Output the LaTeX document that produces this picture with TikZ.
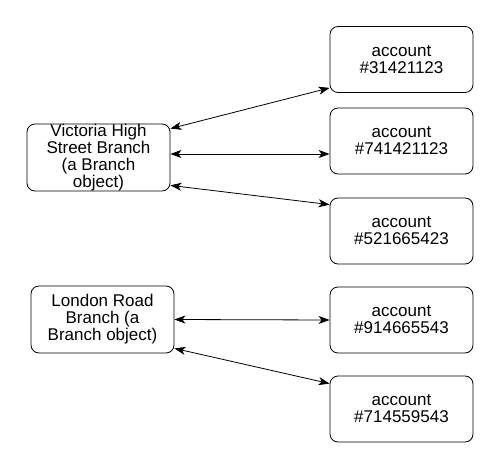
\documentclass[tikz,border=0pt]{standalone}
\usepackage{fontspec}
\setmainfont{Liberation Sans}
\usetikzlibrary{arrows.meta}
\begin{document}
\begin{tikzpicture}[x=1pt,y=-1pt,
  box/.style={draw,rounded corners=8pt,line width=0.8pt,align=center,
    font=\fontsize{17}{17}\selectfont,inner sep=0pt},
  acct/.style={box,minimum width=143pt,minimum height=66pt},
  link/.style={line width=0.8pt,{Stealth[length=11pt,width=8pt,inset=3pt]}-{Stealth[length=11pt,width=8pt,inset=3pt]}}]
\useasboundingbox (0,0) rectangle (500,470);
\node[box,minimum width=143pt,minimum height=67pt] (vic) at (98.5,157.5) {Victoria High\\Street Branch\\(a Branch\\object)};
\node[box,minimum width=143pt,minimum height=67pt] (lon) at (102.5,319.5) {London Road\\Branch (a\\Branch object)};
\node[acct] (a1) at (401.5,59.5) {account\\\#31421123};
\node[acct] (a2) at (401.5,141) {account\\\#741421123};
\node[acct] (a3) at (401.5,231) {account\\\#521665423};
\node[acct] (a4) at (401.5,320) {account\\\#914665543};
\node[acct] (a5) at (401.5,409) {account\\\#714559543};
\draw[link] ([yshift=-5pt]vic.north east) -- ([yshift=5pt]a1.south west);
\draw[link] ([yshift=3.5pt]vic.east) -- ([yshift=-13pt]a2.west);
\draw[link] ([yshift=6pt]vic.south east) -- ([yshift=-7pt]a3.north west);
\draw[link] (lon.east) -- (a4.west);
\draw[link] ([yshift=5pt]lon.south east) -- ([yshift=-8pt]a5.north west);
\end{tikzpicture}
\end{document}
